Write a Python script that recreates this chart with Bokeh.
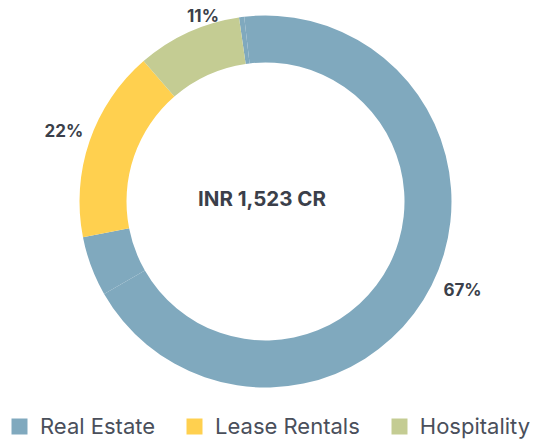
import math
from bokeh.plotting import figure
from bokeh.models import Range1d, Legend, LegendItem, ColumnDataSource
from bokeh.core.properties import value
from bokeh.embed import file_html
from bokeh.resources import INLINE

# ---- data ----
categories = ["Real Estate", "Lease Rentals", "Hospitality"]
shares = [67, 22, 11]
colors = ["#80A9BE", "#FFD04F", "#C4CC93"]

# drawn ring segments (percent of the full circle, clockwise)
seg_category = ["Real Estate", "Real Estate", "Real Estate", "Lease Rentals", "Hospitality"]
seg_share = [0.45, 68.55, 5.2, 16.7, 9.1]
label_segment = [1, 3, 4]          # segment carrying each category's label
center_text = "INR 1,523 CR"

# ---- layout / style ----
W, H = 542, 439
CX, CY = 265, 238
R_OUT, R_IN = 186, 139
START_DEG = -8.2                  # clockwise from 12 o'clock
LABEL_R = 196
FONT = "Inter"
TEXT_DARK = "#3B3F4A"

color_of = dict(zip(categories, colors))

p = figure(width=W, height=H, output_backend="svg", toolbar_location=None,
           x_range=Range1d(0, W), y_range=Range1d(0, H), min_border=0)
p.axis.visible = False
p.grid.visible = False
p.outline_line_color = None
p.background_fill_color = "white"
p.border_fill_color = "white"

starts, ends, cols, mids = [], [], [], []
acc = START_DEG
for cat, s in zip(seg_category, seg_share):
    a0 = acc
    a1 = acc + s * 3.6
    acc = a1
    starts.append(math.radians(90 - a0))
    ends.append(math.radians(90 - a1))
    cols.append(color_of[cat])
    mids.append((a0 + a1) / 2)

src = ColumnDataSource(dict(start=starts, end=ends, color=cols))
p.annular_wedge(x=CX, y=CY, inner_radius=R_IN, outer_radius=R_OUT,
                start_angle="start", end_angle="end", direction="clock",
                fill_color="color", line_color=None, source=src)

# percentage labels
lx, ly, lt, la, lb, lyo = [], [], [], [], [], []
for sh, si in zip(shares, label_segment):
    ang = math.radians(90 - mids[si])
    lx.append(CX + LABEL_R * math.cos(ang))
    ly.append(CY + LABEL_R * math.sin(ang))
    lt.append(f"{sh}%")
    la.append("right" if math.cos(ang) < -0.5 else "left")
    up = math.sin(ang) > 0.2
    lb.append("bottom" if up else "middle")
    lyo.append(3 if up else 0)
lsrc = ColumnDataSource(dict(x=lx, y=ly, text=lt, align=la, base=lb, yo=lyo))
p.text(x="x", y="y", text="text", text_align="align", text_baseline="base",
       text_font=value(FONT), text_font_style="bold", text_font_size="17px",
       text_color=TEXT_DARK, source=lsrc, x_offset=3, y_offset="yo")

# center text
p.text(x=[CX], y=[CY], text=[center_text], text_align="center", text_baseline="middle",
       x_offset=-3.5, y_offset=-3.5,
       text_font=value(FONT), text_font_style="bold", text_font_size="20.5px",
       text_color=TEXT_DARK)

# legend (swatches only; their quads have no drawable extent)
items = []
nan = float("nan")
for cat, c in zip(categories, colors):
    r = p.quad(left=[nan], right=[nan], top=[nan], bottom=[nan], fill_color=c, line_color=None)
    items.append(LegendItem(label=cat, renderers=[r]))
legend = Legend(items=items, orientation="horizontal", location=(9, 0),
                glyph_width=20, glyph_height=20, label_standoff=11, spacing=29,
                padding=0, margin=0, border_line_color=None, background_fill_alpha=0,
                label_text_font=FONT, label_text_font_size="22px",
                label_text_color="#4A4F5B", label_height=20)
p.add_layout(legend)

open("out.html", "w").write(file_html(p, INLINE))
